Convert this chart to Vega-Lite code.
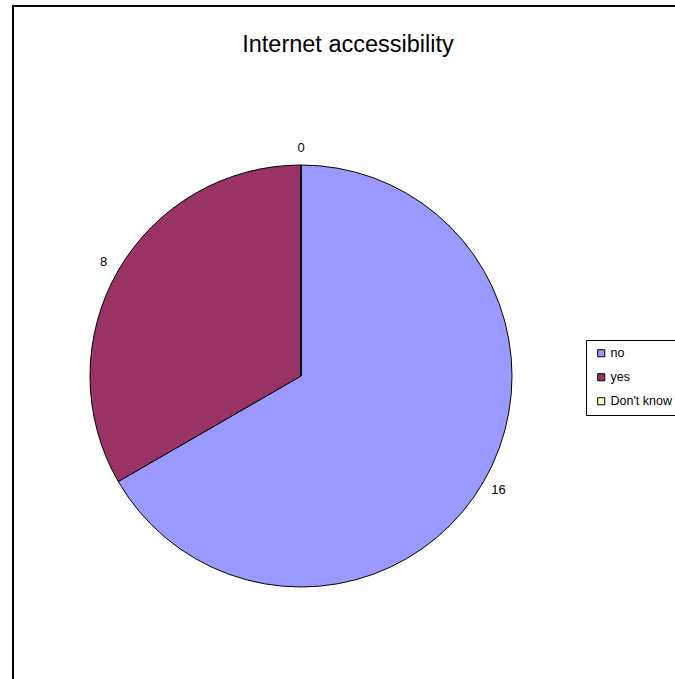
{
  "$schema": "https://vega.github.io/schema/vega-lite/v6.json",
  "width": 700,
  "height": 700,
  "autosize": {"type": "none"},
  "padding": {"left": 13, "top": 6, "right": 0, "bottom": 0},
  "background": "white",
  "view": {"stroke": "black", "strokeWidth": 2},
  "config": {
    "view": {"stroke": "black", "strokeWidth": 2},
    "font": "Liberation Sans"
  },
  "title": {
    "text": "Internet accessibility",
    "fontSize": 23.5,
    "fontWeight": "normal",
    "font": "Liberation Sans",
    "color": "black",
    "anchor": "middle",
    "baseline": "alphabetic",
    "offset": -69,
    "dx": -15
  },
  "data": {
    "values": [
      {"answer": "no", "count": 16, "rank": 1},
      {"answer": "yes", "count": 8, "rank": 2},
      {"answer": "Don't know", "count": 0, "rank": 3}
    ]
  },
  "encoding": {
    "theta": {"field": "count", "type": "quantitative", "stack": true},
    "order": {"field": "rank", "type": "quantitative"}
  },
  "layer": [
    {
      "mark": {"type": "arc", "x": 288, "y": 370, "outerRadius": 211, "stroke": "black", "strokeWidth": 1},
      "encoding": {
        "color": {
          "field": "answer",
          "type": "nominal",
          "scale": {"domain": ["no", "yes", "Don't know"], "range": ["#9999FF", "#993366", "#FFFFCC"]},
          "legend": {
            "title": null,
            "orient": "none",
            "legendX": 573,
            "legendY": 334,
            "strokeColor": "black",
            "fillColor": "white",
            "padding": 7,
            "symbolType": "square",
            "symbolSize": 50,
            "symbolStrokeColor": "black",
            "symbolStrokeWidth": 1,
            "symbolOpacity": 1,
            "symbolOffset": 2,
            "labelFontSize": 12.5,
            "labelFont": "Liberation Sans",
            "labelColor": "black",
            "labelOffset": 3,
            "rowPadding": 11
          }
        }
      }
    },
    {
      "mark": {"type": "text", "x": 288, "y": 370, "radius": 228, "fontSize": 13, "font": "Liberation Sans", "color": "black"},
      "encoding": {
        "text": {"field": "count", "type": "quantitative"}
      }
    }
  ]
}
